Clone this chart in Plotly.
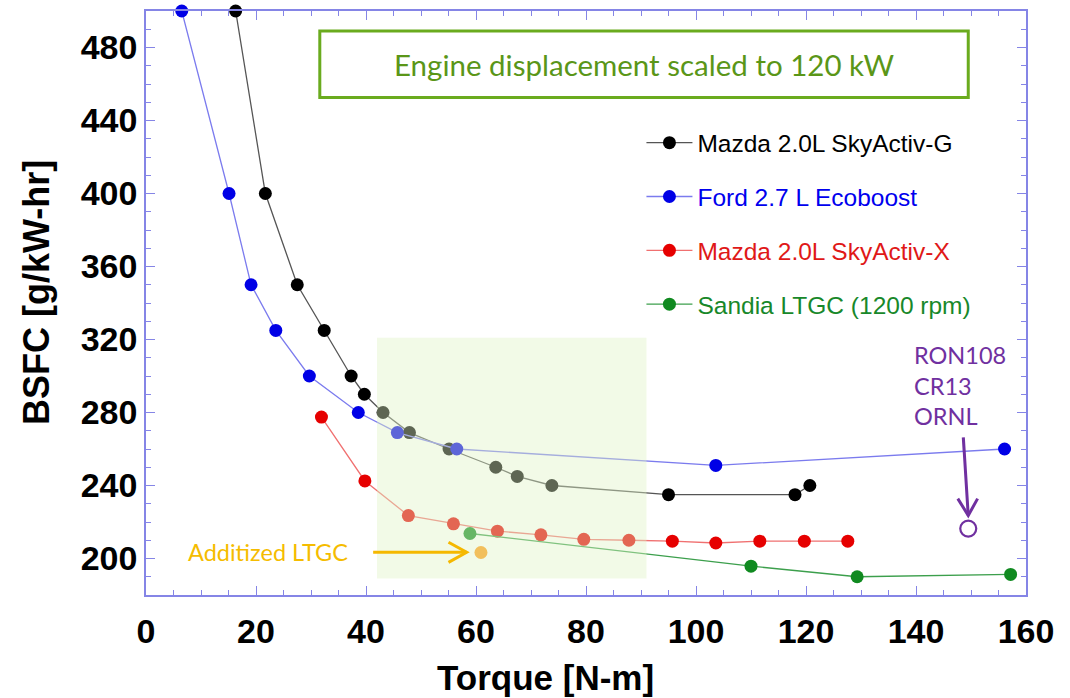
import plotly.graph_objects as go

# ---- data ----
mazda_g_x = [16.3, 21.7, 27.5, 32.4, 37.3, 39.7, 43.1, 47.9, 55.1, 63.6, 67.5, 73.8, 95.0, 118.0, 120.7]
mazda_g_y = [500, 400, 350, 325, 300, 290, 280, 269, 260, 250, 245, 240, 235, 235, 240]

ford_x = [6.5, 15.1, 19.1, 23.6, 29.7, 38.6, 45.7, 56.5, 103.6, 156.1]
ford_y = [500, 400, 350, 325, 300, 280, 269, 260, 251, 260]

mazda_x_x = [31.9, 39.8, 47.7, 55.9, 63.9, 71.8, 79.6, 87.8, 95.7, 103.6, 111.6, 119.7, 127.6]
mazda_x_y = [277.5, 242.5, 223.5, 219, 215, 213, 210.5, 210, 209.5, 208.5, 209.5, 209.5, 209.5]

sandia_x = [58.9, 110.0, 129.3, 157.2]
sandia_y = [213.7, 195.8, 190.0, 191.3]

additized_x = [60.9]
additized_y = [203.3]

ornl_x = [149.5]
ornl_y = [216.4]

series_names = ["Mazda 2.0L SkyActiv-G", "Ford 2.7 L Ecoboost",
                "Mazda 2.0L SkyActiv-X", "Sandia LTGC (1200 rpm)"]

x_ticks = [0, 20, 40, 60, 80, 100, 120, 140, 160]
y_ticks = [200, 240, 280, 320, 360, 400, 440, 480]

fig = go.Figure()

def add_series(x, y, name, mcol, lcol, tcol, grp):
    fig.add_trace(go.Scatter(
        x=x, y=y, mode="lines+markers",
        name=f'<span style="color:{tcol}">{name}</span>',
        legendgroup=grp,
        line=dict(color=lcol, width=1.3),
        marker=dict(color=mcol, size=13),
        cliponaxis=False,
    ))

add_series(mazda_g_x, mazda_g_y, series_names[0], "#000000", "#555555", "#000000", "g1")
add_series(ford_x, ford_y, series_names[1], "#0000e6", "#7b7bee", "#0000ee", "g2")
add_series(mazda_x_x, mazda_x_y, series_names[2], "#e60000", "#f07070", "#e01818", "g3")
add_series(sandia_x, sandia_y, series_names[3], "#108a20", "#3c9f4c", "#18882a", "g4")

fig.add_trace(go.Scatter(x=additized_x, y=additized_y, mode="markers",
                         marker=dict(color="#ff9a10", size=13), showlegend=False))
fig.add_trace(go.Scatter(x=ornl_x, y=ornl_y, mode="markers",
                         marker=dict(symbol="circle-open", color="#7030a0", size=16,
                                     line=dict(width=2.2)), showlegend=False))

gold = "#f5b800"
purple = "#7030a0"
shapes = [
    # shaded region (overlay above data)
    dict(type="rect", xref="x", yref="y", x0=42, x1=91, y0=189, y1=321,
         fillcolor="rgba(225,243,198,0.42)", line=dict(width=0), layer="above"),
    # title box
    dict(type="rect", xref="x", yref="y", x0=31.6, x1=149.5, y0=452.6, y1=489.1,
         fillcolor="rgba(0,0,0,0)", line=dict(color="#6aab1e", width=3), layer="above"),
    # gold arrow
    dict(type="line", xref="x", yref="y", x0=41.3, x1=58.3, y0=203.4, y1=203.4,
         line=dict(color=gold, width=3), layer="above"),
    dict(type="path", xref="x", yref="y", path="M 55.0 208.9 L 58.3 203.4 L 55.0 197.9",
         line=dict(color=gold, width=3), layer="above"),
    # purple arrow
    dict(type="line", xref="x", yref="y", x0=148.6, x1=149.5, y0=266.4, y1=223.6,
         line=dict(color=purple, width=3), layer="above"),
    dict(type="path", xref="x", yref="y", path="M 147.6 232.8 L 149.5 223.6 L 151.2 232.8",
         line=dict(color=purple, width=3), layer="above"),
]

annotations = [
    dict(text="Engine displacement scaled to 120 kW", x=90.6, y=470.8, xref="x", yref="y",
         showarrow=False, font=dict(family="Lato", size=29.5, color="#5a9618")),
    dict(text="Additized LTGC", x=37.0, y=203.4, xref="x", yref="y", xanchor="right",
         showarrow=False, font=dict(family="Lato", size=23.5, color="#f5bc00")),
    dict(text="RON108<br>CR13<br>ORNL", x=139.3, y=295, xref="x", yref="y", xanchor="left",
         align="left", showarrow=False, font=dict(family="Lato", size=23.5, color=purple)),
    dict(text="Torque [N-m]", x=0.4545, y=-0.142, xref="paper", yref="paper",
         xanchor="center", yanchor="middle",
         showarrow=False, font=dict(family="Liberation Sans, Arial", size=35, color="#000", weight="bold")),
    dict(text="BSFC [g/kW-hr]", x=-0.125, y=0.517, xref="paper", yref="paper", textangle=-90,
         xanchor="center", yanchor="middle",
         showarrow=False, font=dict(family="Liberation Sans, Arial", size=36, color="#000", weight="bold")),
]

axis_col = "#8585e6"
fig.update_layout(
    width=1070, height=698,
    margin=dict(l=146, r=44, t=9, b=103),
    paper_bgcolor="white", plot_bgcolor="white",
    shapes=shapes, annotations=annotations,
    showlegend=True,
    legend=dict(x=0.563, y=0.813, xanchor="left", yanchor="top",
                font=dict(family="Liberation Sans, Arial", size=24.5),
                bgcolor="rgba(0,0,0,0)", tracegroupgap=19, itemwidth=46),
    xaxis=dict(range=[0, 160], tickvals=x_ticks, ticks="inside", ticklen=9, tickwidth=1,
               tickcolor=axis_col, showline=True, linecolor=axis_col, linewidth=1.5,
               mirror="ticks", showgrid=False, zeroline=False,
               minor=dict(dtick=5, ticks="inside", ticklen=5, tickcolor=axis_col),
               tickfont=dict(family="Liberation Sans, Arial", size=34, color="#000", weight="bold"),
               ticklabelstandoff=5),
    yaxis=dict(range=[180, 500], tickvals=y_ticks, ticks="inside", ticklen=9, tickwidth=1,
               tickcolor=axis_col, showline=True, linecolor=axis_col, linewidth=1.5,
               mirror="ticks", showgrid=False, zeroline=False,
               minor=dict(dtick=10, ticks="inside", ticklen=5, tickcolor=axis_col),
               tickfont=dict(family="Liberation Sans, Arial", size=34, color="#000", weight="bold"),
               ticklabelstandoff=0),
)

fig.write_html("out.html")
